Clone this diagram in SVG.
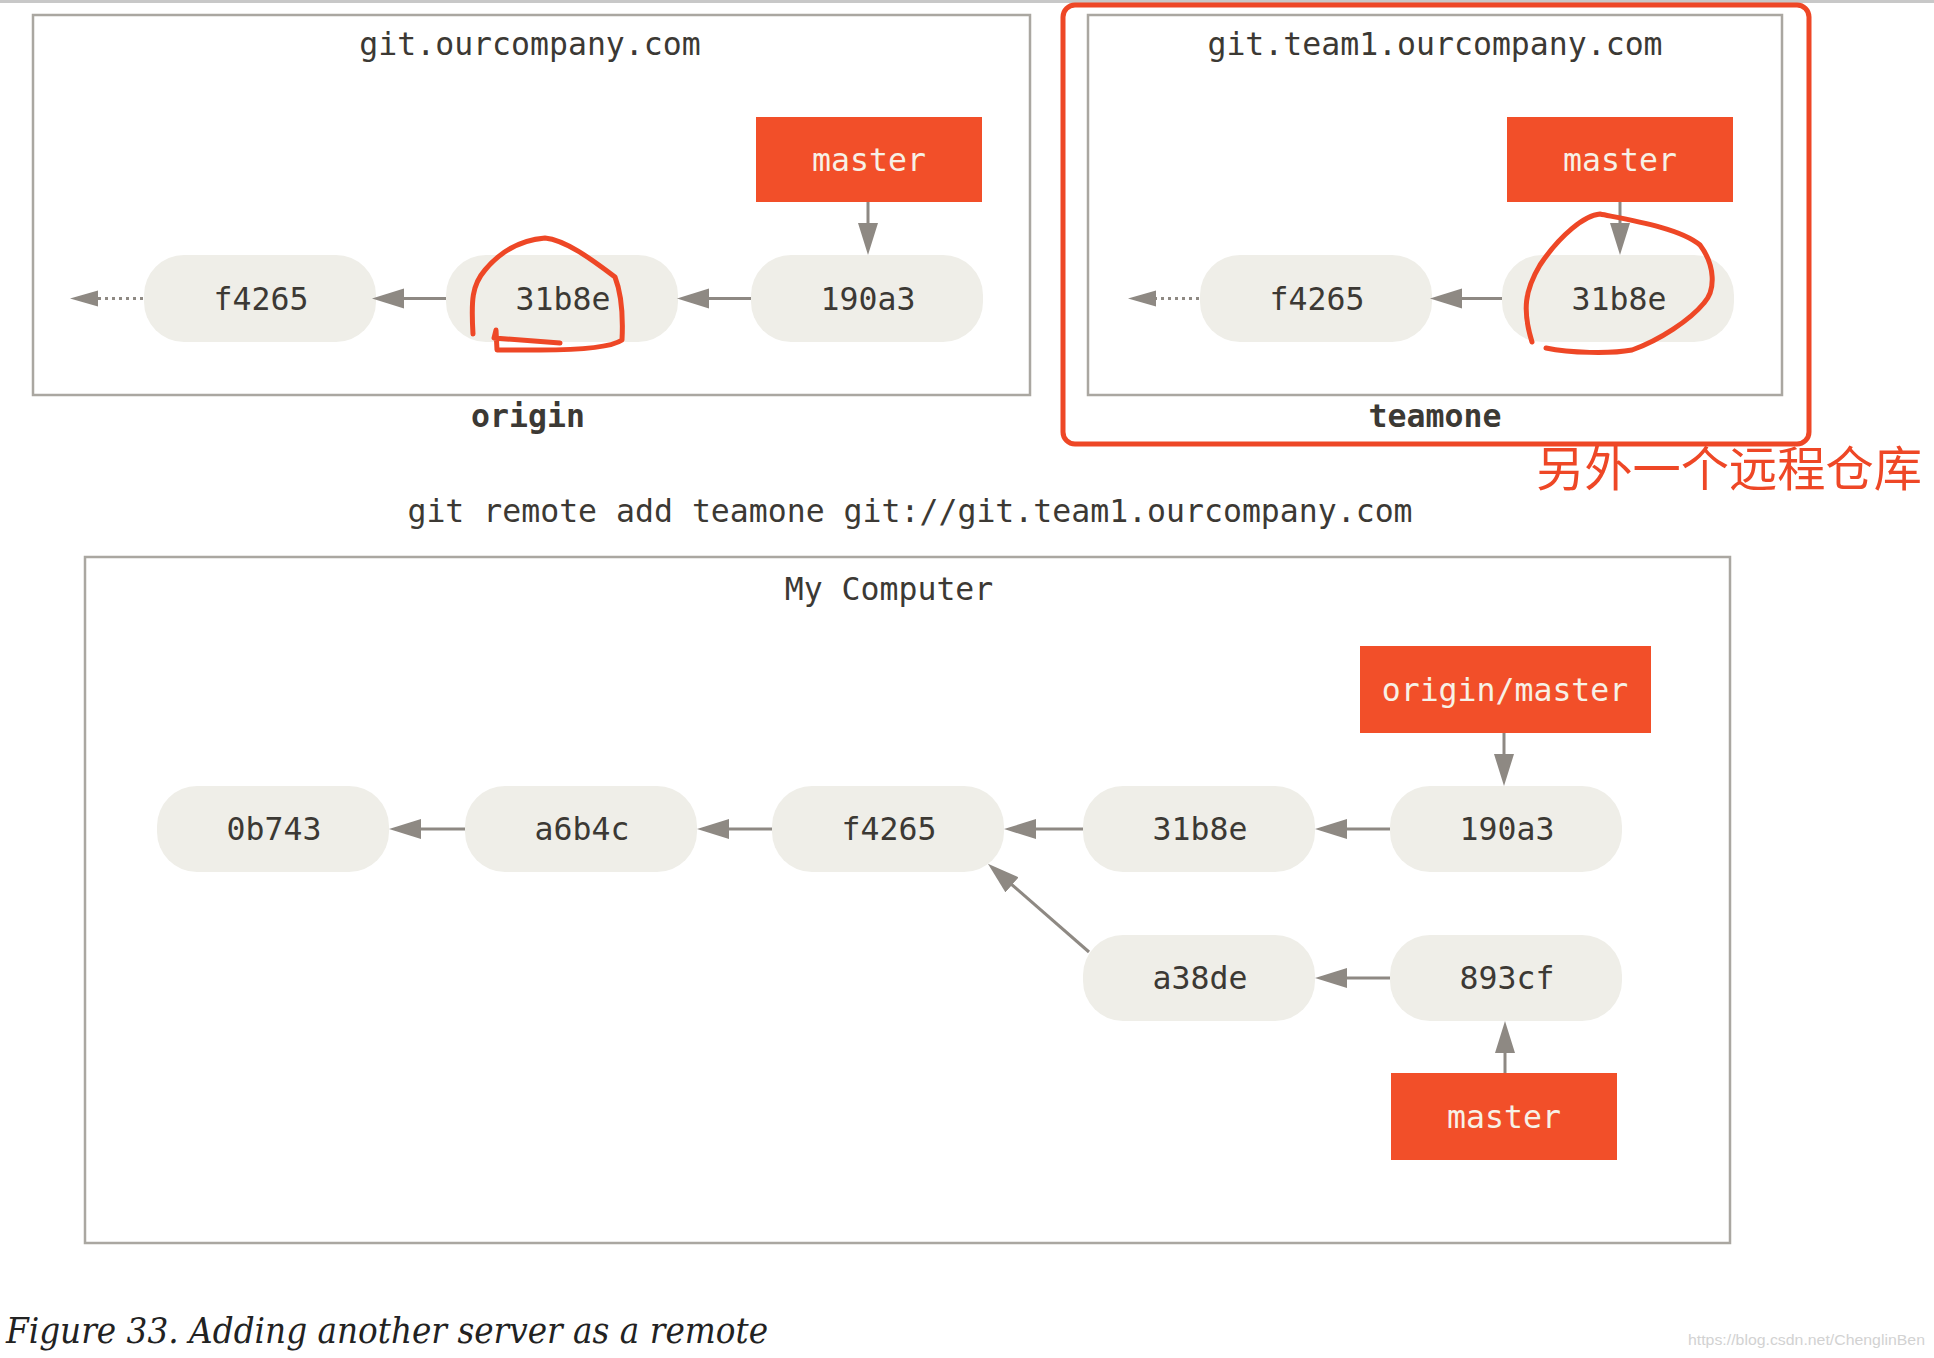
<svg xmlns="http://www.w3.org/2000/svg" width="1934" height="1358" viewBox="0 0 1934 1358">
<style>
.box{fill:none;stroke:#aaa7a1;stroke-width:2.5}
.pill{fill:#efeee8}
.ref{fill:#f24f29}
.t{font-family:"DejaVu Sans Mono",monospace;font-size:31.5px;fill:#3c3934;text-anchor:middle}
.tw{fill:#f7f1e6}
.b{font-weight:bold}
.conn line{stroke:#8e8983;stroke-width:3;fill:none}
.dot{stroke-dasharray:3 4}
.hand{fill:none;stroke:#ee4726;stroke-width:5;stroke-linecap:round;stroke-linejoin:round}
</style>
<defs>
<marker id="ah" markerUnits="userSpaceOnUse" markerWidth="34" markerHeight="22" refX="12" refY="10" orient="auto">
<path d="M0,0 L32,10 L0,20 z" fill="#8e8983"/>
</marker>
<marker id="ahd" markerUnits="userSpaceOnUse" markerWidth="30" markerHeight="18" refX="10" refY="8" orient="auto">
<path d="M0,0 L28,8 L0,16 z" fill="#8e8983"/>
</marker>
</defs>
<rect x="0" y="0" width="1934" height="3" fill="#c8c8c8"/>

<g id="origin-server">
<rect class="box" x="33" y="15" width="997" height="380"/>
<text class="t" x="530" y="55">git.ourcompany.com</text>
<text class="t b" x="528" y="427">origin</text>
</g>
<g id="origin-master"><rect class="ref" x="756" y="117" width="226" height="85"/><text class="t tw" x="869" y="171">master</text></g>
<g id="origin-f4265"><rect class="pill" x="144" y="255" width="232" height="87" rx="40"/><text class="t" x="261" y="310">f4265</text></g>
<g id="origin-31b8e"><rect class="pill" x="446" y="255" width="232" height="87" rx="40"/><text class="t" x="563" y="310">31b8e</text></g>
<g id="origin-190a3"><rect class="pill" x="751" y="255" width="232" height="87" rx="40"/><text class="t" x="868" y="310">190a3</text></g>

<g id="teamone-server">
<rect class="box" x="1088" y="15" width="694" height="380"/>
<text class="t" x="1435" y="55">git.team1.ourcompany.com</text>
<text class="t b" x="1435" y="427">teamone</text>
</g>
<g id="teamone-master"><rect class="ref" x="1507" y="117" width="226" height="85"/><text class="t tw" x="1620" y="171">master</text></g>
<g id="teamone-f4265"><rect class="pill" x="1200" y="255" width="232" height="87" rx="40"/><text class="t" x="1317" y="310">f4265</text></g>
<g id="teamone-31b8e"><rect class="pill" x="1502" y="255" width="232" height="87" rx="40"/><text class="t" x="1619" y="310">31b8e</text></g>

<g id="command"><text class="t" x="910" y="522">git remote add teamone git://git.team1.ourcompany.com</text></g>

<g id="my-computer">
<rect class="box" x="85" y="557" width="1645" height="686"/>
<text class="t" x="889" y="600">My Computer</text>
</g>
<g id="mc-origin-master"><rect class="ref" x="1360" y="646" width="291" height="87"/><text class="t tw" x="1505" y="701">origin/master</text></g>
<g id="mc-0b743"><rect class="pill" x="157" y="786" width="232" height="86" rx="40"/><text class="t" x="274" y="840">0b743</text></g>
<g id="mc-a6b4c"><rect class="pill" x="465" y="786" width="232" height="86" rx="40"/><text class="t" x="582" y="840">a6b4c</text></g>
<g id="mc-f4265"><rect class="pill" x="772" y="786" width="232" height="86" rx="40"/><text class="t" x="889" y="840">f4265</text></g>
<g id="mc-31b8e"><rect class="pill" x="1083" y="786" width="232" height="86" rx="40"/><text class="t" x="1200" y="840">31b8e</text></g>
<g id="mc-190a3"><rect class="pill" x="1390" y="786" width="232" height="86" rx="40"/><text class="t" x="1507" y="840">190a3</text></g>
<g id="mc-a38de"><rect class="pill" x="1083" y="935" width="232" height="86" rx="40"/><text class="t" x="1200" y="989">a38de</text></g>
<g id="mc-893cf"><rect class="pill" x="1390" y="935" width="232" height="86" rx="40"/><text class="t" x="1507" y="989">893cf</text></g>
<g id="mc-master"><rect class="ref" x="1391" y="1073" width="226" height="87"/><text class="t tw" x="1504" y="1128">master</text></g>

<g id="connectors" class="conn">
<line x1="868" y1="202" x2="868" y2="235" marker-end="url(#ah)"/>
<line x1="751" y1="298.5" x2="697" y2="298.5" marker-end="url(#ah)"/>
<line x1="446" y1="298.5" x2="392" y2="298.5" marker-end="url(#ah)"/>
<line class="dot" x1="143" y1="298.5" x2="88" y2="298.5" marker-end="url(#ahd)"/>
<line x1="1620" y1="202" x2="1620" y2="235" marker-end="url(#ah)"/>
<line x1="1502" y1="298.5" x2="1450" y2="298.5" marker-end="url(#ah)"/>
<line class="dot" x1="1199" y1="298.5" x2="1146" y2="298.5" marker-end="url(#ahd)"/>
<line x1="1504" y1="733" x2="1504" y2="766" marker-end="url(#ah)"/>
<line x1="1390" y1="829" x2="1335" y2="829" marker-end="url(#ah)"/>
<line x1="1083" y1="829" x2="1024" y2="829" marker-end="url(#ah)"/>
<line x1="772" y1="829" x2="717" y2="829" marker-end="url(#ah)"/>
<line x1="465" y1="829" x2="409" y2="829" marker-end="url(#ah)"/>
<line x1="1390" y1="978" x2="1335" y2="978" marker-end="url(#ah)"/>
<line x1="1505" y1="1073" x2="1505" y2="1041" marker-end="url(#ah)"/>
<line x1="1089" y1="952" x2="1003" y2="877" marker-end="url(#ah)"/>
</g>

<g id="annotations">
<rect class="hand" x="1063" y="5" width="746" height="439" rx="12" stroke-width="5.5"/>
<path class="hand" d="M473,334 C471,300 472,285 485,270 C500,252 520,240 545,238 C565,240 590,258 615,277 C622,295 623,320 622,340 C612,347 580,350 540,350 L497,350 L496,330 L494,338 L560,343"/>
<path class="hand" d="M1532,342 C1522,310 1525,290 1540,265 C1560,235 1585,215 1600,214 C1630,220 1680,228 1700,245 C1715,265 1716,290 1704,303 C1690,320 1660,340 1632,350 C1610,354 1570,353 1546,348"/>
<text x="1536" y="486" font-family="'Noto Sans CJK SC',sans-serif" font-size="48" fill="#ee4726" textLength="386" lengthAdjust="spacingAndGlyphs">另外一个远程仓库</text>
</g>

<g id="caption">
<text x="6" y="1343" font-family="'DejaVu Serif',serif" font-style="italic" font-size="35" fill="#222" textLength="762" lengthAdjust="spacingAndGlyphs">Figure 33. Adding another server as a remote</text>
<text x="1688" y="1345" font-family="'Liberation Sans',sans-serif" font-size="14" fill="#d2d2d2" textLength="237" lengthAdjust="spacingAndGlyphs">https://blog.csdn.net/ChenglinBen</text>
</g>
</svg>
